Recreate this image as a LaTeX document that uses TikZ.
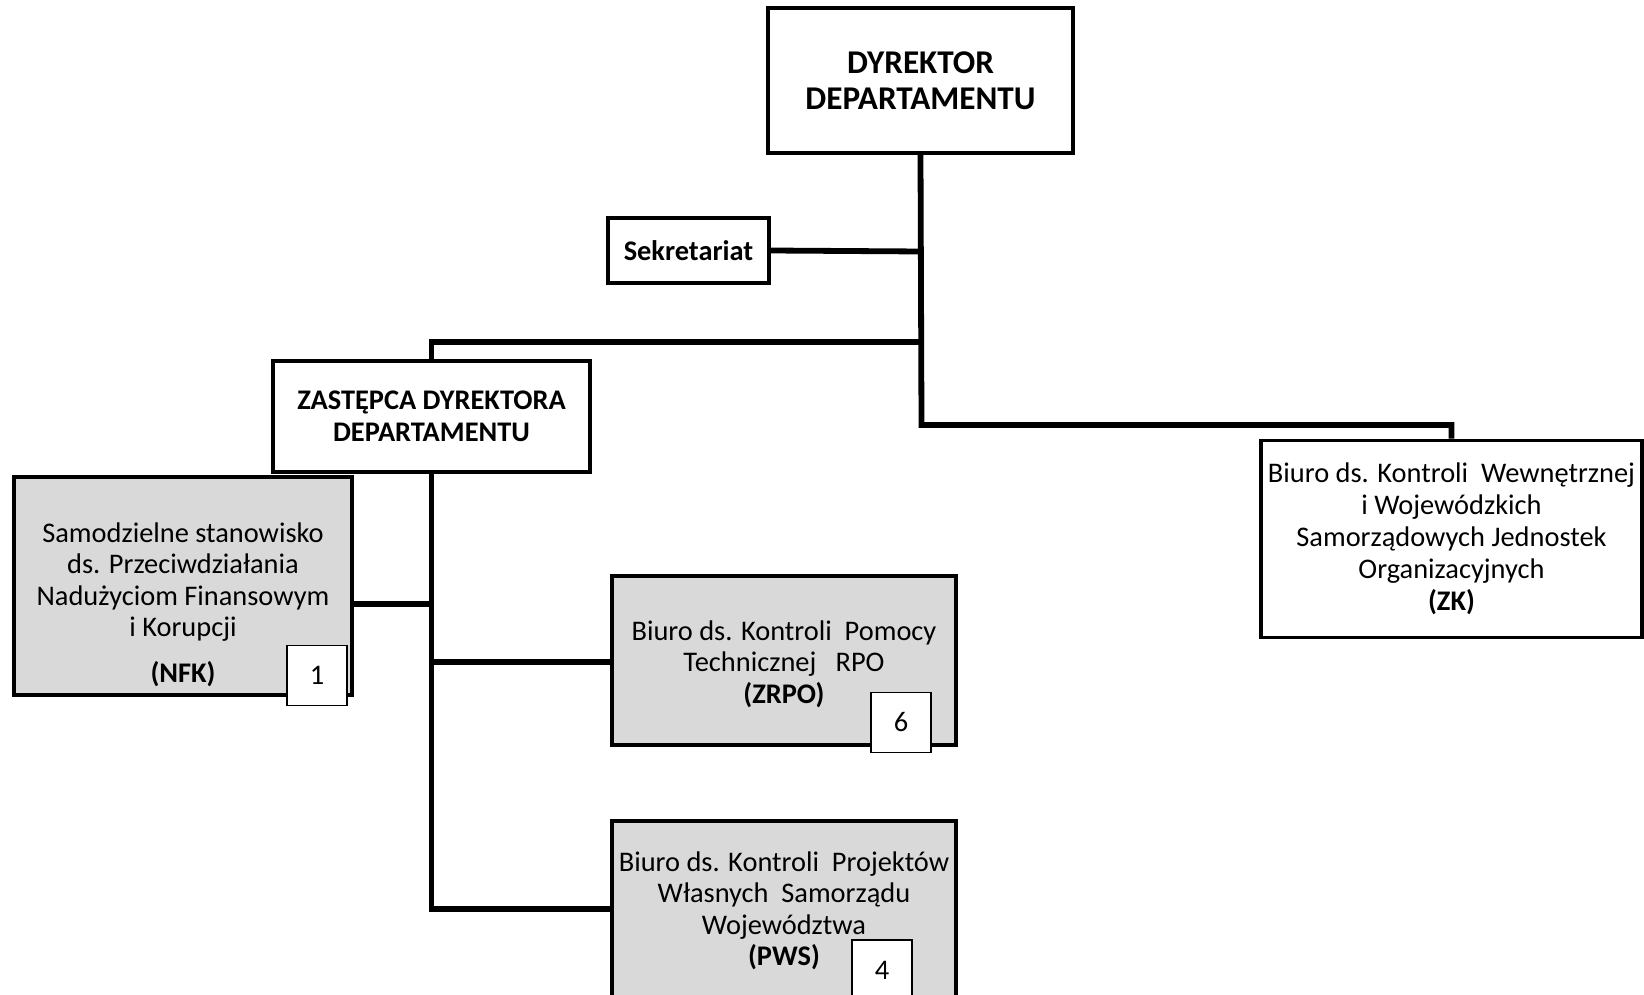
\documentclass[tikz,border=0pt]{standalone}
\usepackage{fontspec}
\setmainfont{Carlito}
\definecolor{boxgray}{HTML}{D9D9D9}
\begin{document}
\begin{tikzpicture}[x=0.5pt,y=-0.5pt,
  box/.style={draw=black, line width=1.8pt, fill=white, inner sep=0pt, align=center,
    font=\fontsize{14.2}{15.75}\selectfont},
  gbox/.style={box, fill=boxgray},
  txt/.style={inner sep=0pt, align=center, font=\fontsize{14.2}{15.75}\selectfont},
  numbox/.style={draw=black, line width=0.7pt, fill=white, inner sep=0pt,
    minimum width=30pt, minimum height=30pt, font=\fontsize{14.2}{16}\selectfont},
  conn/.style={line width=2.9pt, line join=miter}
]
\useasboundingbox (0,0) rectangle (1644,995);
\clip (0,0) rectangle (1644,995);
\fill[white] (0,0) rectangle (1644,995);

% boxes
\node[box, minimum width=152.5pt, minimum height=72.5pt,
  font=\fontsize{16.6}{18.25}\selectfont\bfseries] (dyr) at (920.5,80.5)
  {DYREKTOR\\DEPARTAMENTU};
\node[box, minimum width=80.5pt, minimum height=32.5pt, font=\fontsize{14.2}{15.75}\selectfont\bfseries]
  (sek) at (688.5,250.5) {Sekretariat};
\node[box, minimum width=158.5pt, minimum height=55.5pt, font=\fontsize{14.2}{15.75}\selectfont\bfseries]
  (zas) at (431.5,416.5) {ZASTĘPCA DYREKTORA\\DEPARTAMENTU};
\node[gbox, minimum width=169pt, minimum height=109pt] (nfk) at (183,586) {};
\node[gbox, minimum width=172pt, minimum height=84.5pt] (zrpo) at (784,660.5) {};
\node[txt] (zrpotext) at (784,664)
  {Biuro ds. Kontroli\ \ Pomocy\\Technicznej\ \ \ RPO\\\textbf{(ZRPO)}};
\node[gbox, minimum width=172pt, minimum height=90pt] (pws) at (784,911)
  {Biuro ds. Kontroli\ \ Projektów\\Własnych\ \ Samorządu\\Województwa\\\textbf{(PWS)}};
\node[box, minimum width=190.5pt, minimum height=98.5pt,
  font=\fontsize{14.2}{16}\selectfont] (zk) at (1451.5,539)
  {Biuro ds. Kontroli\ \ Wewnętrznej\\i Wojewódzkich\\Samorządowych Jednostek\\Organizacyjnych\\\textbf{(ZK)}};

\node[txt] (nfktext) at (183,604.5)
  {Samodzielne stanowisko\\ds. Przeciwdziałania\\Nadużyciom Finansowym\\i Korupcji\\[7pt]\textbf{(NFK)}};

% number boxes
\node[numbox] (n1) at (317,675.5) {1};
\node[numbox] (n6) at (901,722.5) {6};
\node[numbox] (n4) at (882,970) {4};

% junctions
\coordinate (j1) at (921.5,251.5);
\coordinate (j2) at (921.5,342);
\coordinate (j3) at (921.5,425);
\coordinate (j4) at (431.5,909);
\coordinate (j5) at (431.5,604);
\coordinate (j6) at (431.5,662);

% connectors
\draw[conn] (dyr.south) -- (j3) -- (j3 -| zk.north) -- (zk.north);
\draw[conn] (sek.east) -- (j1);
\draw[conn] (j2) -| (zas.north);
\draw[conn] (zas.south) -- (j4) -- (j4 -| pws.west);
\draw[conn] (j5) -- (j5 -| nfk.east);
\draw[conn] (j6) -- (j6 -| zrpo.west);
\end{tikzpicture}
\end{document}
